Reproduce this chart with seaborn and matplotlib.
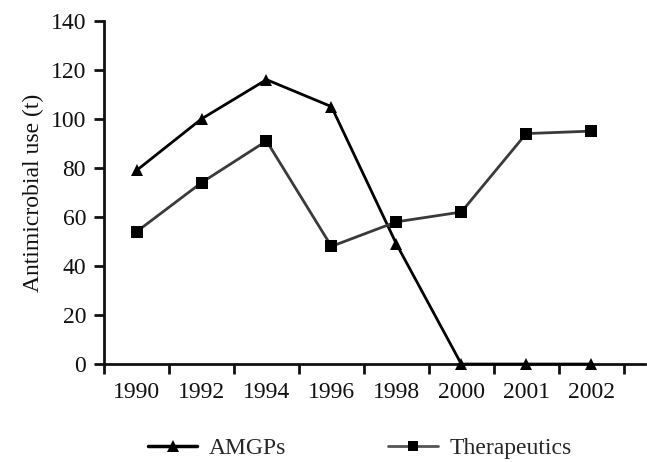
import numpy as np
import pandas as pd
import matplotlib
matplotlib.use("Agg")
import matplotlib.pyplot as plt
import seaborn as sns
from matplotlib.lines import Line2D

years = ["1990", "1992", "1994", "1996", "1998", "2000", "2001", "2002"]
amgps = [79, 100, 116, 105, 49, 0, 0, 0]
therapeutics = [54, 74, 91, 48, 58, 62, 94, 95]
series_names = ["AMGPs", "Therapeutics"]
y_ticks = [0, 20, 40, 60, 80, 100, 120, 140]

sns.set_theme(style="white")
plt.rcParams["font.family"] = ["Liberation Serif", "DejaVu Serif"]

idx = np.arange(len(years))
df = pd.DataFrame({
    "pos": np.concatenate([idx, idx]),
    "value": amgps + therapeutics,
    "series": [series_names[0]] * len(years) + [series_names[1]] * len(years),
})

fig = plt.figure(figsize=(6.47, 4.62), dpi=100)
ax = fig.add_axes([0.161, 0.212, 0.836, 0.743])

colors = {"AMGPs": "#000000", "Therapeutics": "#3a3a3a"}
markers = {"AMGPs": "^", "Therapeutics": "s"}
sns.lineplot(data=df, x="pos", y="value", hue="series", style="series",
             palette=colors, markers=markers, dashes=False, linewidth=2,
             markersize=8, markeredgewidth=0, ax=ax, legend=False, zorder=3,
             clip_on=False)
for ln in ax.lines:
    ln.set_markerfacecolor("#000000")

ax.set_xlim(-0.5, 7.83)
ax.set_ylim(0, 140)
ax.set_yticks(y_ticks)
ax.set_yticklabels([str(v) for v in y_ticks])
ax.set_xticks(idx)
ax.set_xticklabels(years)
ax.set_xticks(np.arange(-0.5, 8.0, 1.0), minor=True)
ax.tick_params(axis="x", which="major", length=0, pad=13, labelsize=17, colors="#111111")
ax.tick_params(axis="x", which="minor", length=7, width=2, direction="out", color="#111111", bottom=True)
ax.tick_params(axis="y", which="major", length=7, width=2, direction="out", pad=6, labelsize=17, colors="#111111", left=True)

ax.set_xlabel("")
ax.set_ylabel("Antimicrobial use (t)", fontsize=17, labelpad=5, color="#111111")
for s in ["top", "right"]:
    ax.spines[s].set_visible(False)
for s in ["left", "bottom"]:
    ax.spines[s].set_linewidth(2)
    ax.spines[s].set_color("#111111")

handles = [
    Line2D([], [], color=colors["AMGPs"], marker="^", lw=2.5, markersize=8, markeredgewidth=0),
    Line2D([], [], color="#555555", marker="s", lw=2, markersize=7, markeredgewidth=0,
           markerfacecolor="#000000"),
]
fig.legend(handles, series_names, loc="center", bbox_to_anchor=(0.556, 0.03),
           ncol=2, frameon=False, fontsize=17, handlelength=2.1,
           columnspacing=4.3, handletextpad=0.5)

fig.savefig("out.png", dpi=100, facecolor="white")
